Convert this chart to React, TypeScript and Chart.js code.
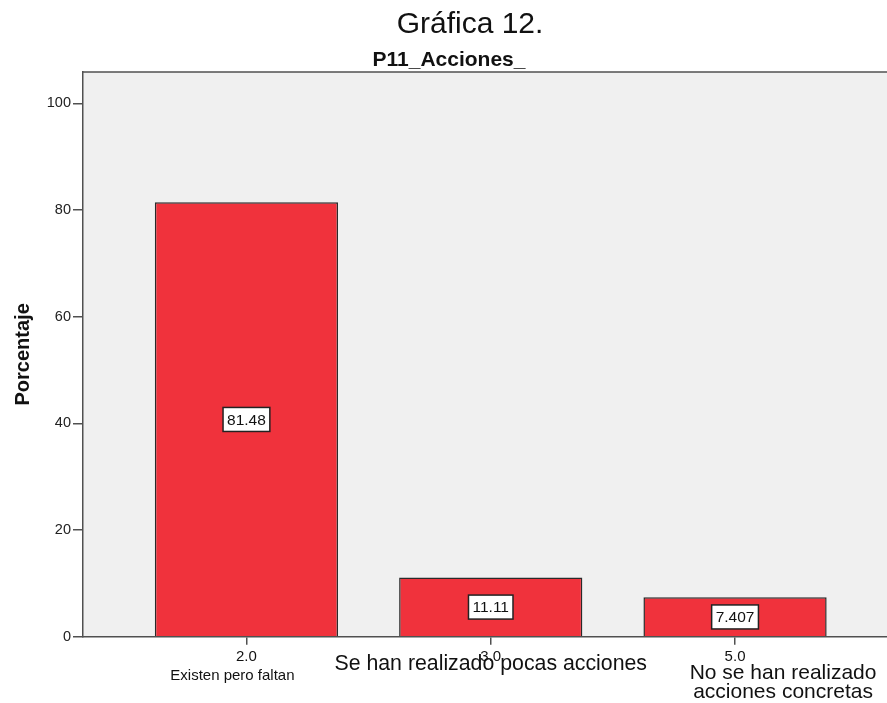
import { useEffect, useRef } from "react";
import { Chart, registerables } from "chart.js";

Chart.register(...registerables);

// ---- data ----
const categoryCodes = ["2.0", "3.0", "5.0"];
const categoryNames = [
  ["Existen pero faltan"],
  ["Se han realizado pocas acciones"],
  ["No se han realizado", "acciones concretas"],
];
const percentages = [81.48, 11.11, 7.407];
const valueLabels = ["81.48", "11.11", "7.407"];
const yTickValues = [0, 20, 40, 60, 80, 100];
const chartTitle = "Gráfica 12.";
const chartSubtitle = "P11_Acciones_";
const yAxisTitle = "Porcentaje";

const FONT = "Arial, 'Liberation Sans', sans-serif";
const AXIS = "#505050";

// per-category label styling (layout only)
const nameStyles = [
  { size: 15, dx: -14, baselines: [43.5] },
  { size: 21.3, dx: 0, baselines: [33.5] },
  { size: 21, dx: 48, baselines: [42.5, 61.5] },
];

const decorPlugin = {
  id: "decor",
  beforeDraw(chart: any) {
    const { ctx, chartArea: a } = chart;
    ctx.save();
    ctx.fillStyle = "#ffffff";
    ctx.fillRect(0, 0, chart.width, chart.height);
    ctx.fillStyle = "#f0f0f0";
    ctx.fillRect(a.left, a.top, a.right - a.left, a.bottom - a.top);
    ctx.restore();
  },
  afterDatasetsDraw(chart: any) {
    const { ctx } = chart;
    const yScale = chart.scales.y;
    const meta = chart.getDatasetMeta(0);
    ctx.save();
    ctx.font = `15.5px ${FONT}`;
    ctx.textAlign = "center";
    ctx.textBaseline = "middle";
    meta.data.forEach((el: any, i: number) => {
      const x = el.x;
      const y = yScale.getPixelForValue(percentages[i] / 2);
      const txt = valueLabels[i];
      const w = ctx.measureText(txt).width + 8;
      const h = 24;
      ctx.fillStyle = "#ffffff";
      ctx.fillRect(x - w / 2, y - h / 2, w, h);
      ctx.strokeStyle = "#222";
      ctx.lineWidth = 1.5;
      ctx.strokeRect(x - w / 2, y - h / 2, w, h);
      ctx.fillStyle = "#111";
      ctx.fillText(txt, x, y + 1);
    });
    ctx.restore();
  },
  afterDraw(chart: any) {
    const { ctx, chartArea: a } = chart;
    const xScale = chart.scales.x;
    ctx.save();
    // top border of plot
    ctx.strokeStyle = AXIS;
    ctx.lineWidth = 1.5;
    ctx.beginPath();
    ctx.moveTo(a.left, a.top);
    ctx.lineTo(a.right, a.top);
    ctx.stroke();

    // titles
    ctx.fillStyle = "#111";
    ctx.textAlign = "center";
    ctx.textBaseline = "alphabetic";
    ctx.font = `30px ${FONT}`;
    ctx.fillText(chartTitle, 470, 33);
    ctx.font = `bold 21px ${FONT}`;
    ctx.fillText(chartSubtitle, 449, 66);

    // y title
    ctx.save();
    ctx.translate(29, (a.top + a.bottom) / 2);
    ctx.rotate(-Math.PI / 2);
    ctx.font = `bold 20px ${FONT}`;
    ctx.fillText(yAxisTitle, 0, 0);
    ctx.restore();

    // x tick labels and category names
    categoryCodes.forEach((code, i) => {
      const px = xScale.getPixelForValue(i + 1);
      ctx.font = `15px ${FONT}`;
      ctx.fillText(code, px, a.bottom + 24.5);
      const st = nameStyles[i];
      ctx.font = `${st.size}px ${FONT}`;
      categoryNames[i].forEach((line, j) => {
        ctx.fillText(line, px + st.dx, a.bottom + st.baselines[j]);
      });
    });
    ctx.restore();
  },
};

export default function App() {
  const ref = useRef<HTMLCanvasElement | null>(null);

  useEffect(() => {
    if (!ref.current) return;
    const chart = new Chart(ref.current, {
      type: "bar",
      data: {
        datasets: [
          {
            label: chartSubtitle,
            data: percentages.map((v, i) => ({ x: i + 1, y: v })),
            backgroundColor: "rgb(240, 50, 60)",
            borderColor: "#2a2a2a",
            borderWidth: 1.5,
            categoryPercentage: 1,
            barPercentage: 0.75,
          },
        ],
      },
      options: {
        animation: false,
        responsive: false,
        devicePixelRatio: 1,
        layout: { padding: { top: 72, left: 0, right: 0, bottom: 0 } },
        plugins: {
          legend: { display: false },
          title: { display: false },
          tooltip: { enabled: false },
        },
        scales: {
          x: {
            type: "linear",
            min: 0.331,
            max: 3.622,
            offset: false,
            afterBuildTicks: (s: any) => {
              s.ticks = categoryCodes.map((_, i) => ({ value: i + 1 }));
            },
            afterFit: (s: any) => {
              s.height = 66.3;
            },
            ticks: { display: false },
            grid: {
              display: true,
              offset: false,
              drawOnChartArea: false,
              drawTicks: true,
              tickLength: 8,
              color: AXIS,
              lineWidth: 1.5,
            },
            border: { display: true, color: AXIS, width: 1.5 },
          },
          y: {
            min: 0,
            max: 105.9,
            afterBuildTicks: (s: any) => {
              s.ticks = yTickValues.map((v) => ({ value: v }));
            },
            afterFit: (s: any) => {
              s.width = 83;
            },
            ticks: {
              font: { family: FONT, size: 14.5 },
              color: "#222",
              padding: 2,
            },
            grid: {
              display: true,
              offset: false,
              drawOnChartArea: false,
              drawTicks: true,
              tickLength: 10,
              color: AXIS,
              lineWidth: 1.5,
            },
            border: { display: true, color: AXIS, width: 1.5 },
          },
        },
      },
      plugins: [decorPlugin],
    });
    return () => chart.destroy();
  }, []);

  return (
    <div
      style={{
        position: "fixed",
        left: 0,
        top: 0,
        width: 887,
        height: 703,
        overflow: "hidden",
        background: "#fff",
      }}
    >
      <canvas ref={ref} width={887} height={703} style={{ width: 887, height: 703, display: "block" }} />
    </div>
  );
}
